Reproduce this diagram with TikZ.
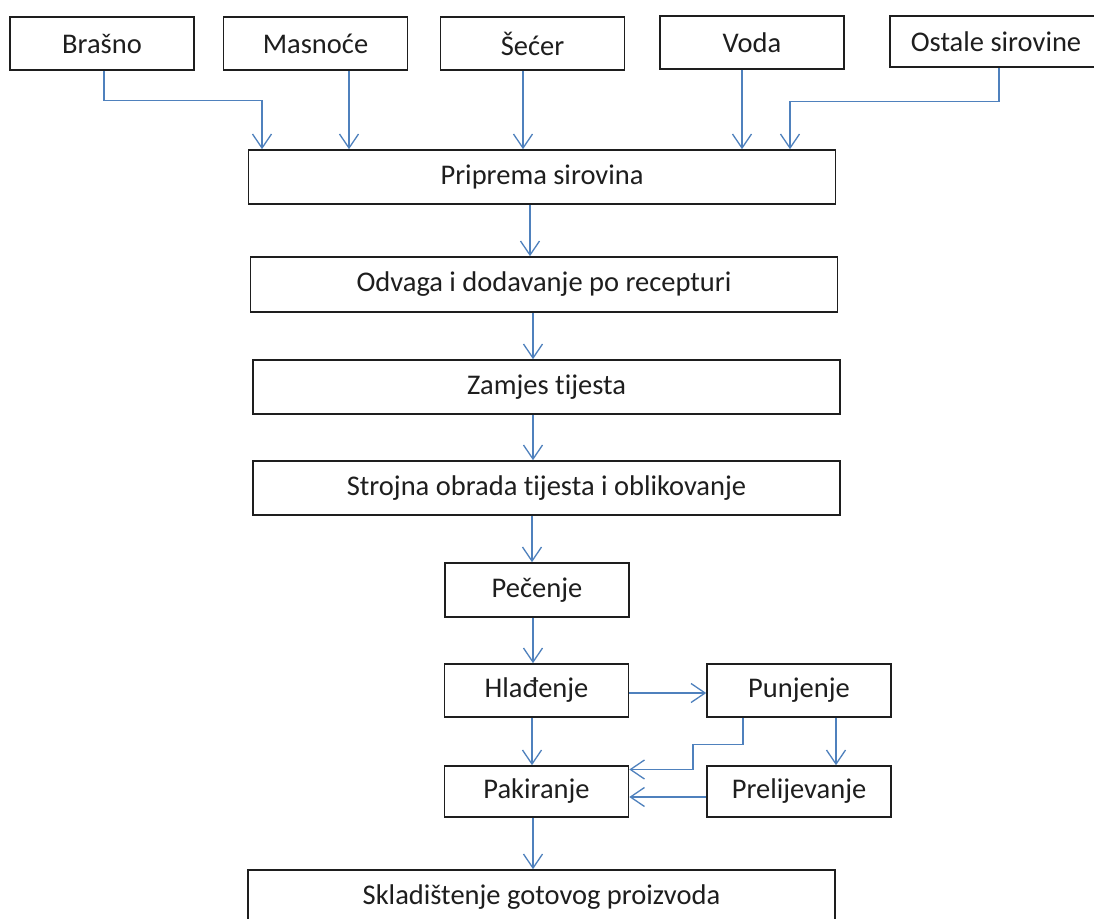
\documentclass[tikz,border=0pt]{standalone}
\usepackage{fontspec}
\setmainfont{Carlito}[Ligatures={NoCommon,NoContextual,NoRare}, RawFeature={-liga;-clig;-dlig}]
\usepackage{tikz}
\usetikzlibrary{positioning, arrows.meta}
\definecolor{boxColor}{RGB}{30, 30, 30}
\definecolor{flowColor}{RGB}{79, 129, 189}

\begin{document}
\begin{tikzpicture}[
  x=1pt, y=-1pt,
  every node/.style={font=\fontsize{28.5}{34}\selectfont, text=boxColor},
  box/.style={draw=boxColor, line width=1.6pt, inner sep=0pt, minimum height=54pt},
  smallbox/.style={box, minimum width=184pt},
  widebox/.style={box, minimum width=587pt},
  flow/.style={draw=flowColor, line width=1.3pt, -{Straight Barb[length=14pt, width=19pt, line width=1.3pt]}}
]
\fill[white] (0,0) rectangle (1094,918);
\useasboundingbox (0,0) rectangle (1094,918);

\node[smallbox, minimum height=53pt] (brasno) at (102,43.5) {Brašno};
\node[smallbox, minimum height=53pt] (masnoce) at (315.5,43.5) {Masnoće};
\node[smallbox, minimum height=53pt] (secer) at (532.5,43.5) {Šećer};
\node[smallbox, minimum height=53pt] (voda) at (752,42.5) {Voda};
\node[box, minimum width=212pt, minimum height=51pt] (ostale) at (996,41.5) {Ostale sirovine};

\node[widebox] (priprema) at (542,177) {Priprema sirovina};
\node[widebox, minimum height=55pt] (odvaga) at (544,284.5) {Odvaga i dodavanje po recepturi};
\node[widebox] (zamjes) at (546.5,387) {Zamjes tijesta};
\node[widebox] (strojna) at (546.5,488) {Strojna obrada tijesta i oblikovanje};
\node[smallbox] (pecenje) at (537,590) {Pečenje};
\node[smallbox, minimum height=53pt] (hladenje) at (536.5,690.5) {Hlađenje};
\node[smallbox, minimum height=53pt] (punjenje) at (799,690.5) {Punjenje};
\node[smallbox, minimum height=51pt] (pakiranje) at (536.5,791.5) {Pakiranje};
\node[smallbox, minimum height=51pt] (prelijevanje) at (799,791.5) {Prelijevanje};
\node[widebox] (skladistenje) at (541.5,897) {Skladištenje gotovog proizvoda};

\draw[flow] ([xshift=2pt]brasno.south) -- ++(0,30) -| ([xshift=-280pt]priprema.north);
\draw[flow] ([xshift=33.5pt]masnoce.south) -- ([xshift=33.5pt]masnoce.south |- priprema.north);
\draw[flow] ([xshift=-9.5pt]secer.south) -- ([xshift=-9.5pt]secer.south |- priprema.north);
\draw[flow] ([xshift=-10pt]voda.south) -- ([xshift=-10pt]voda.south |- priprema.north);
\draw[flow] ([xshift=3pt]ostale.south) -- ++(0,34) -| ([xshift=248pt]priprema.north);

\draw[flow] ([xshift=-12pt]priprema.south) -- ([xshift=-12pt]priprema.south |- odvaga.north);
\draw[flow] ([xshift=-11pt]odvaga.south) -- ([xshift=-11pt]odvaga.south |- zamjes.north);
\draw[flow] ([xshift=-13.5pt]zamjes.south) -- ([xshift=-13.5pt]zamjes.south |- strojna.north);
\draw[flow] ([xshift=-14.5pt]strojna.south) -- ([xshift=-14.5pt]strojna.south |- pecenje.north);
\draw[flow] ([xshift=-4pt]pecenje.south) -- ([xshift=-4pt]pecenje.south |- hladenje.north);

\draw[flow] ([yshift=-2.5pt]hladenje.east) -- ([yshift=-2.5pt]punjenje.west);
\draw[flow] ([xshift=-4.5pt]hladenje.south) -- ([xshift=-4.5pt]hladenje.south |- pakiranje.north);
\draw[flow] ([xshift=37pt]punjenje.south) -- ([xshift=37pt]punjenje.south |- prelijevanje.north);
\draw[flow] ([xshift=-56pt]punjenje.south) -- ++(0,27) -- ++(-50,0) |- ([yshift=22pt]pakiranje.east);
\draw[flow] ([yshift=-5.5pt]prelijevanje.west) -- ([yshift=-5.5pt]pakiranje.east);
\draw[flow] ([xshift=-3.5pt]pakiranje.south) -- ([xshift=-3.5pt]pakiranje.south |- skladistenje.north);
\end{tikzpicture}
\end{document}
